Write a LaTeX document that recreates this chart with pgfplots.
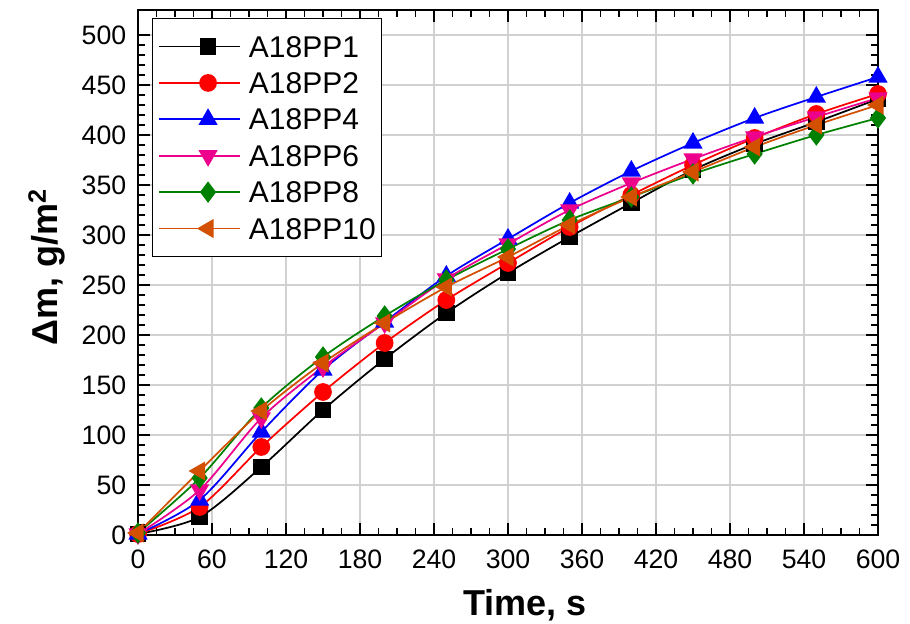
\documentclass[border=0pt]{standalone}
\usepackage{pgfplots}
\pgfplotsset{compat=1.18}
\usepackage{fontspec}
\setmainfont{Liberation Sans}
\definecolor{cOrange}{RGB}{210,80,0}
\definecolor{cGreen}{RGB}{0,128,0}
\begin{document}
\begin{tikzpicture}
\begin{axis}[
  anchor=origin, at={(0pt,0pt)},
  scale only axis, width=555pt, height=393.75pt,
  xmin=0, xmax=600, ymin=0, ymax=525,
  xtick={0,60,...,600}, ytick={0,50,...,500},
  minor x tick num=3, minor y tick num=4,
  tick align=inside,
  major tick length=9pt, minor tick length=5pt,
  every tick/.style={black, line width=1.4pt},
  axis line style={line width=2pt},
  grid=major, major grid style={line width=1pt, color=black!18},
  /pgf/number format/assume math mode=true,
  ticklabel style={font=\fontsize{20}{23}\selectfont},
  yticklabel style={xshift=-5.3pt},
  xticklabel style={yshift=-8pt},
  xlabel={\textbf{Time, s}},
  ylabel={\textbf{Δm, g/m\textsuperscript{2}}},
  label style={font=\fontsize{27}{30}\selectfont},
  xlabel style={at={(axis description cs:0.523,-0.133)}, anchor=center},
  ylabel style={at={(axis description cs:-0.123,0.51)}, anchor=center},
  legend cell align=left,
  legend style={at={(axis description cs:0,1)}, anchor=north west,
    xshift=10.5pt, yshift=-6pt, draw=black, line width=0.8pt,
    font=\fontsize{22.5}{26}\selectfont,
    inner xsep=4.5pt, inner ysep=13pt,
    row sep=11.3pt,
    nodes={inner sep=0pt, text height=16pt, text depth=0pt},
    /tikz/every odd column/.append style={column sep=6pt}},
  legend image code/.code={
    \path (-12.5pt,0pt) -- (0pt,0pt);
    \draw[line width=1.3pt, mark repeat=2,mark phase=2] plot coordinates {(0pt,0pt) (24pt,0pt) (48pt,0pt)};},
  every axis plot/.append style={smooth, line width=1.3pt},
]
\addplot[black, mark=square*, mark size=5.5pt, mark options={solid, fill=black}] coordinates {
(0,1) (50,18) (100,68) (150,125) (200,176) (250,222) (300,262) (350,298) (400,332) (450,365) (500,391) (550,413) (600,436)};
\addlegendentry{A18PP1}
\addplot[red, mark=*, mark size=6pt, mark options={solid, fill=red}] coordinates {
(0,1) (50,28) (100,88) (150,143) (200,192) (250,235) (300,272) (350,308) (400,340) (450,370) (500,397) (550,421) (600,441)};
\addlegendentry{A18PP2}
\addplot[blue, mark=triangle*, mark size=7pt, mark options={solid, fill=blue}] coordinates {
(0,1) (50,35) (100,103) (150,165) (200,213) (250,259) (300,296) (350,332) (400,364) (450,392) (500,417) (550,438) (600,458)};
\addlegendentry{A18PP4}
\addplot[magenta, mark=triangle*, mark size=7pt, mark options={solid, fill=magenta, rotate=180}] coordinates {
(0,1) (50,45) (100,117) (150,168) (200,212) (250,256) (300,291) (350,325) (400,352) (450,376) (500,398) (550,418) (600,437)};
\addlegendentry{A18PP6}
\addplot[cGreen, mark=diamond*, mark size=7pt, mark options={solid, fill=cGreen}] coordinates {
(0,2) (50,57) (100,127) (150,178) (200,219) (250,255) (300,286) (350,315) (400,338) (450,361) (500,381) (550,400) (600,417)};
\addlegendentry{A18PP8}
\addplot[cOrange, mark=triangle*, mark size=7pt, mark options={solid, fill=cOrange, rotate=90}] coordinates {
(0,2) (50,64) (100,124) (150,172) (200,212) (250,248) (300,278) (350,310) (400,338) (450,363) (500,388) (550,410) (600,430)};
\addlegendentry{A18PP10}
\end{axis}
\pgfresetboundingbox
\path (-103.5pt,-66.75pt) rectangle (579pt,401.25pt);
\end{tikzpicture}
\end{document}
